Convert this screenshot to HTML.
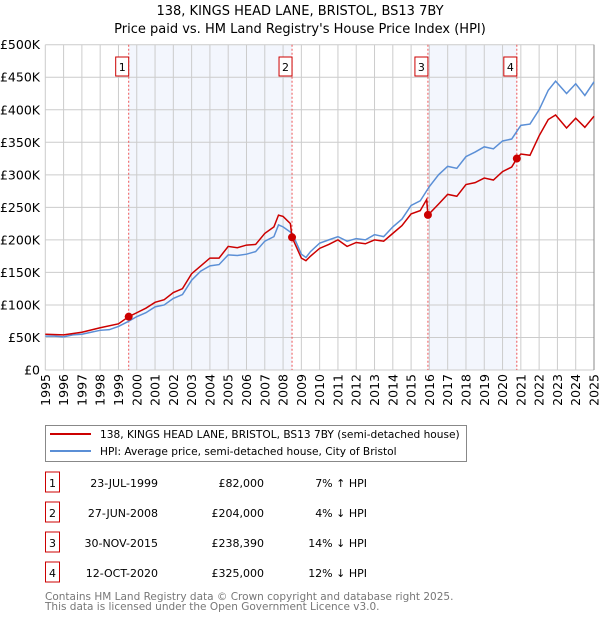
<!DOCTYPE html>
<html><head><meta charset="utf-8"><style>
body{margin:0;background:#fff;font-family:"DejaVu Sans","Liberation Sans",sans-serif;}
svg text{font-family:"DejaVu Sans","Liberation Sans",sans-serif;}
</style></head><body>
<svg id="chart" width="600" height="620" xmlns="http://www.w3.org/2000/svg">
<text x="300" y="15" text-anchor="middle" font-size="13">138, KINGS HEAD LANE, BRISTOL, BS13 7BY</text>
<text x="300" y="33" text-anchor="middle" font-size="13">Price paid vs. HM Land Registry's House Price Index (HPI)</text>
<g id="plot"></g>
<g>
<rect x="45.5" y="425.5" width="421" height="36" fill="#fff" stroke="#888"/>
<line x1="50" y1="434" x2="91" y2="434" stroke="#cc0000" stroke-width="2"/>
<text x="100" y="438" font-size="10.6">138, KINGS HEAD LANE, BRISTOL, BS13 7BY (semi-detached house)</text>
<line x1="50" y1="451" x2="91" y2="451" stroke="#5b8fd6" stroke-width="2"/>
<text x="100" y="455" font-size="10.6">HPI: Average price, semi-detached house, City of Bristol</text>
</g>
<g id="table"></g>
<text x="45" y="600" font-size="10.5" fill="#777">Contains HM Land Registry data © Crown copyright and database right 2025.</text>
<text x="45" y="610" font-size="10.5" fill="#777">This data is licensed under the Open Government Licence v3.0.</text>
</svg>
<script>
const hpiYears=[1995,1995.5,1996,1996.5,1997,1997.5,1998,1998.5,1999,1999.5,2000,2000.5,2001,2001.5,2002,2002.5,2003,2003.5,2004,2004.5,2005,2005.5,2006,2006.5,2007,2007.5,2007.75,2008,2008.5,2009,2009.25,2009.5,2010,2010.5,2011,2011.5,2012,2012.5,2013,2013.5,2014,2014.5,2015,2015.5,2016,2016.5,2017,2017.5,2018,2018.5,2019,2019.5,2020,2020.5,2021,2021.5,2022,2022.5,2022.9,2023.5,2024,2024.5,2025];
const hpiValues=[52,52,51,54,55,58,61,62,67,74,82,88,97,100,110,116,138,152,160,162,177,176,178,182,198,205,223,220,210,178,173,182,195,200,205,198,202,200,208,205,220,232,253,260,282,300,313,310,328,335,343,340,352,355,376,378,400,430,444,425,440,422,443];
const priceYears=[1995,1996,1997,1998,1999,1999.56,2000,2000.5,2001,2001.5,2002,2002.5,2003,2003.5,2004,2004.5,2005,2005.5,2006,2006.5,2007,2007.5,2007.75,2008,2008.4,2008.49,2009,2009.25,2009.5,2010,2010.5,2011,2011.5,2012,2012.5,2013,2013.5,2014,2014.5,2015,2015.5,2015.85,2015.92,2016.5,2017,2017.5,2018,2018.5,2019,2019.5,2020,2020.5,2020.78,2021,2021.5,2022,2022.5,2022.9,2023.5,2024,2024.5,2025];
const priceValues=[55,54,58,65,71,82,88,95,104,108,119,125,148,160,172,172,190,188,192,193,210,220,238,236,225,204,172,168,175,187,193,200,190,196,194,200,198,210,222,240,245,262,238,255,270,267,285,288,295,292,305,312,325,332,330,360,385,392,372,387,373,390];
const saleLabels=["1","2","3","4"];
const saleYears=[1999.56,2008.49,2015.92,2020.78];
const saleValues=[82,204,238.39,325];
const saleDates=["23-JUL-1999","27-JUN-2008","30-NOV-2015","12-OCT-2020"];
const salePrices=["£82,000","£204,000","£238,390","£325,000"];
const saleDiffs=["7% ↑ HPI","4% ↓ HPI","14% ↓ HPI","12% ↓ HPI"];
const yTicks=[0,50,100,150,200,250,300,350,400,450,500];
const yTickLabels=["£0","£50K","£100K","£150K","£200K","£250K","£300K","£350K","£400K","£450K","£500K"];
const xTicks=[1995,1996,1997,1998,1999,2000,2001,2002,2003,2004,2005,2006,2007,2008,2009,2010,2011,2012,2013,2014,2015,2016,2017,2018,2019,2020,2021,2022,2023,2024,2025];

const X0=45.3,X1=594,Y0=370,Y1=44.7;
const xs=y=>X0+(y-1995)/30*(X1-X0);
const ys=v=>Y0-v/500*(Y0-Y1);
const NS="http://www.w3.org/2000/svg";
const plot=document.getElementById('plot');
function mk(tag,attrs,parent){const e=document.createElementNS(NS,tag);for(const k in attrs)e.setAttribute(k,attrs[k]);(parent||plot).appendChild(e);return e;}

const bg=mk('rect',{x:X0,y:Y1,width:X1-X0,height:Y0-Y1,fill:'#fff'});


for(let i=0;i<saleYears.length;i+=2){
  const r=mk('rect',{x:xs(saleYears[i]),y:Y1,width:xs(saleYears[i+1])-xs(saleYears[i]),height:Y0-Y1,fill:'#f3f6fd'});
  
  
}
yTicks.forEach((t,i)=>{
  const l=mk('line',{x1:X0,x2:X1,y1:ys(t),y2:ys(t),stroke:'#ccc','stroke-width':1});
  
  
  const tx=mk('text',{x:40,y:ys(t)+4.5,'text-anchor':'end','font-size':12.5});
  
  
  tx.textContent=yTickLabels[i];
});
xTicks.forEach(t=>{
  const l=mk('line',{x1:xs(t),x2:xs(t),y1:Y1,y2:Y0,stroke:'#ccc','stroke-width':1});
  
  
  const tx=mk('text',{x:0,y:0,'text-anchor':'end','font-size':12.5,transform:`translate(${xs(t)+4.5},374) rotate(-90)`});
  
  
  tx.textContent=t;
});
const rb=mk('line',{x1:X1,x2:X1,y1:Y1,y2:Y0,stroke:'#888','stroke-width':1});


saleYears.forEach((s,i)=>{
  const l=mk('line',{x1:xs(s),x2:xs(s),y1:Y1,y2:Y0,stroke:'#ee5555','stroke-width':1,'stroke-dasharray':'2,2'});
  
  
  const b=mk('rect',{x:xs(s)-13,y:57,width:13,height:19,fill:'#fff',stroke:'#cc0000'});
  
  
  const t=mk('text',{x:xs(s)-6.5,y:71,'text-anchor':'middle','font-size':11});
  
  
  t.textContent=saleLabels[i];
});
const hp=mk('polyline',{points:hpiYears.map((y,i)=>xs(y)+','+ys(hpiValues[i])).join(' '),fill:'none',stroke:'#5b8fd6','stroke-width':1.5});


const pp=mk('polyline',{points:priceYears.map((y,i)=>xs(y)+','+ys(priceValues[i])).join(' '),fill:'none',stroke:'#cc0000','stroke-width':1.5});


saleYears.forEach((s,i)=>{
  const c=mk('circle',{cx:xs(s),cy:ys(saleValues[i]),r:4,fill:'#cc0000'});
  
  
});
const table=document.getElementById('table');
saleLabels.forEach((lab,i)=>{
  const y=483+i*30;
  const b=mk('rect',{x:45.5,y:y-11,width:14,height:20,fill:'#fff',stroke:'#cc0000'},table);
  
  
  const t=mk('text',{x:52.5,y:y+4,'text-anchor':'middle','font-size':11},table);
  
  
  t.textContent=lab;
  const d=mk('text',{x:158,y:y+4,'text-anchor':'end','font-size':11},table);
  
  
  d.textContent=saleDates[i];
  const p=mk('text',{x:264,y:y+4,'text-anchor':'end','font-size':11},table);
  
  
  p.textContent=salePrices[i];
  const h=mk('text',{x:367,y:y+4,'text-anchor':'end','font-size':11},table);
  
  
  h.textContent=saleDiffs[i];
});
</script>
</body></html>
